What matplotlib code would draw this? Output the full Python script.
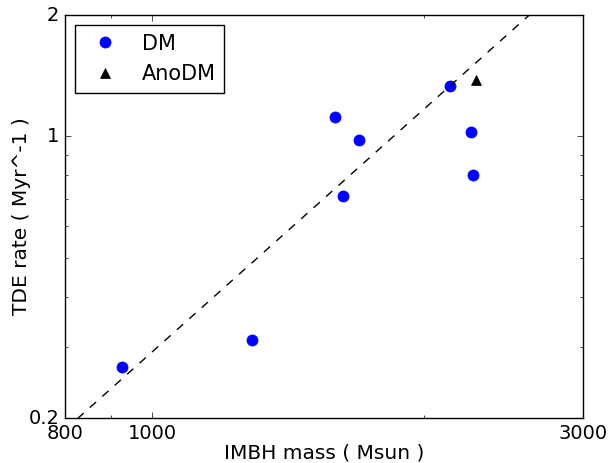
import matplotlib
matplotlib.use("Agg")
import matplotlib.pyplot as plt
import numpy as np

plt.style.use('classic')

# IMBH mass (Msun) and TDE rate (Myr^-1)
dm_mass = [926, 1289, 1593, 1627, 1694, 2136, 2254, 2266]
dm_rate = [0.268, 0.312, 1.117, 0.711, 0.980, 1.333, 1.025, 0.802]
anodm_mass = [2283]
anodm_rate = [1.38]

# reference scaling rate ~ (M / M0)^2
M0 = 1850.0
line_mass = np.array([800, 3000])
line_rate = (line_mass / M0) ** 2

fig = plt.figure(figsize=(6.08, 4.63), dpi=100)
ax = fig.add_axes([65/608, 45/463, 518/608, 403/463])

ax.plot(dm_mass, dm_rate, 'o', color='blue', mec='blue', markersize=8, label='DM')
ax.plot(anodm_mass, anodm_rate, '^', color='black', markersize=7, label='AnoDM')
ax.plot(line_mass, line_rate, 'k--')

ax.set_xscale('log')
ax.set_yscale('log')
ax.set_xlim(800, 3000)
ax.set_ylim(0.2, 2)
ax.set_xticks([800, 1000, 3000])
ax.set_xticklabels(['800', '1000', '3000'])
ax.set_yticks([0.2, 1, 2])
ax.set_yticklabels(['0.2', '1', '2'])
ax.tick_params(labelsize=14)

ax.set_xlabel('IMBH mass ( Msun )', fontsize=14.5, labelpad=1)
ax.set_ylabel('TDE rate ( Myr^-1 )', fontsize=14.5, labelpad=-2)

ax.legend(loc='upper left', numpoints=1, fontsize=15)

fig.savefig('out.png', dpi=100)
